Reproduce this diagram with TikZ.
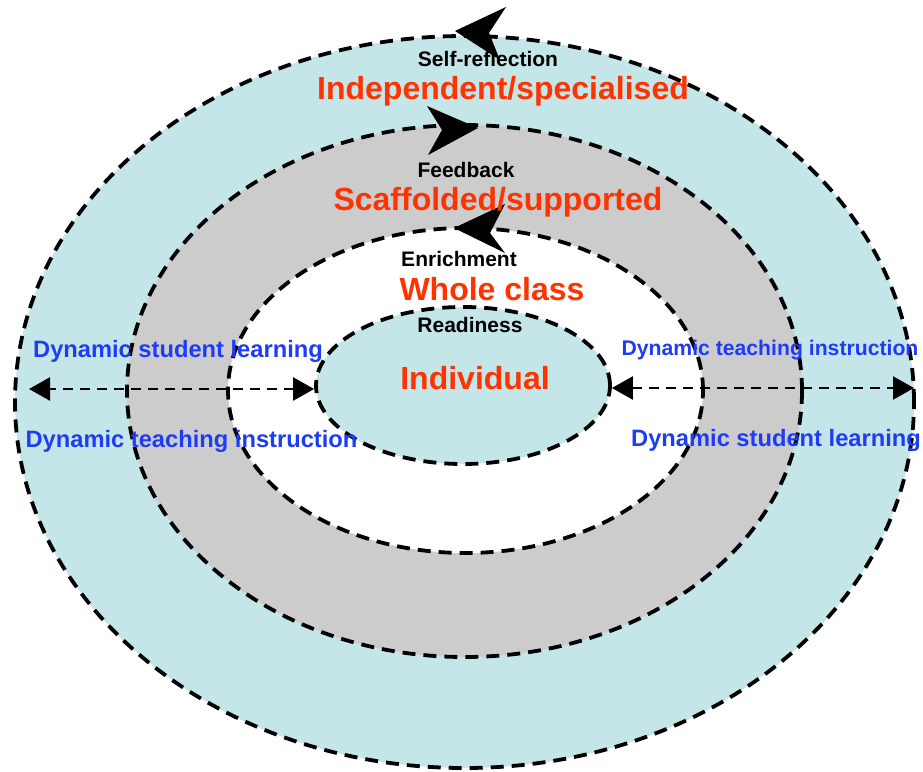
\documentclass[tikz,border=0pt]{standalone}
\usepackage{fontspec}
\setmainfont{Liberation Sans}
\usetikzlibrary{shapes.geometric,arrows.meta}
\definecolor{ringblue}{RGB}{196,230,232}
\definecolor{ringgray}{RGB}{204,204,204}
\definecolor{titlered}{RGB}{255,51,0}
\definecolor{sideblue}{RGB}{30,60,245}
\tikzset{
  ring/.style={ellipse, inner sep=0pt, draw=black, line width=3.8pt,
    dash pattern=on 13pt off 8pt},
  sidearrow/.style={line width=2.4pt, dash pattern=on 10pt off 7pt,
    {Triangle[length=21pt,width=23pt]}-{Triangle[length=21pt,width=23pt]}},
  small/.style={anchor=base, font=\fontsize{21}{23}\selectfont\bfseries, text=black, inner sep=0pt},
  big/.style={anchor=base, font=\fontsize{32}{34}\selectfont\bfseries, text=titlered, inner sep=0pt},
  side/.style={anchor=base, font=\fontsize{23.7}{26}\selectfont\bfseries, text=sideblue, inner sep=0pt},
}
\begin{document}
\begin{tikzpicture}[x=1pt,y=-1pt]
\useasboundingbox (0,0) rectangle (923,771);

% nested rings, outermost first
\node[ring, fill=ringblue, minimum width=899pt, minimum height=732pt] (outer) at (464.5,402) {};
\node[ring, fill=ringgray, minimum width=675pt, minimum height=532pt] (middle) at (464.5,391) {};
\node[ring, fill=white, minimum width=475pt, minimum height=325pt] (inner) at (465.5,390.5) {};
\node[ring, fill=ringblue, minimum width=294pt, minimum height=157pt] (core) at (463,385.5) {};

% direction marks on the rings
\fill (455,31) -- (506,7) -- (489,33) -- (500,60) -- cycle;
\fill (478,128) -- (427,106) -- (442,130) -- (428,155) -- cycle;
\fill (454,228) -- (505,204) -- (490,233) -- (505,253) -- cycle;

% two-way arrows across the rings
\coordinate (lend) at (29,389);
\coordinate (rend) at (914,388);
\draw[sidearrow] (core.west |- lend) -- (lend);
\draw[sidearrow] (core.east |- rend) -- (rend);

% ring labels
\node[small] (lself) at (488,66) {Self-reflection};
\node[big] (lind) at (503,99) {Independent/specialised};
\node[small] (lfeed) at (466,177) {Feedback};
\node[big] (lscaf) at (498,210) {Scaffolded/supported};
\node[small] (lenr) at (459,266) {Enrichment};
\node[big] (lwhole) at (492,300) {Whole class};
\node[small] (lread) at (470,332) {Readiness};
\node[big] (lindiv) at (475,389) {Individual};

% side labels
\node[side] (lsl) at (178,357) {Dynamic student learning};
\node[side] (lti) at (191.5,447) {Dynamic teaching instruction};
\node[side, font=\fontsize{21.2}{23}\selectfont\bfseries] (rti) at (770,355) {Dynamic teaching instruction};
\node[side] (rsl) at (776,446) {Dynamic student learning};
\end{tikzpicture}
\end{document}
